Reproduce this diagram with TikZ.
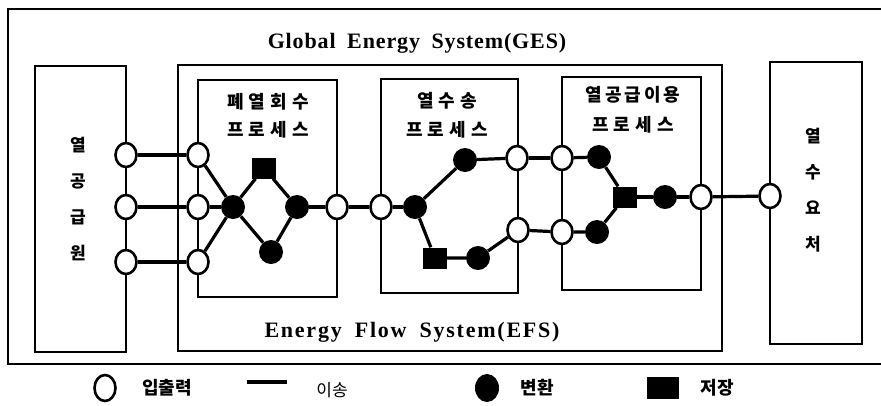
\documentclass[tikz,border=0pt]{standalone}
\usepackage{fontspec}
\usepackage{tikz}
\usetikzlibrary{positioning,shapes.geometric,backgrounds}
\newfontfamily\krfont{Noto Sans CJK KR}
\newfontfamily\enfont[WordSpace=1.8,LetterSpace=4]{Liberation Serif}

\begin{document}
\begin{tikzpicture}[
    x=1pt, y=-1pt,
    box/.style={
        draw=black,
        line width=2.2pt,
        inner sep=0pt
    },
    io/.style={
        ellipse,
        draw=black,
        line width=2.6pt,
        fill=white,
        minimum width=21pt,
        minimum height=24pt,
        inner sep=0pt
    },
    conv/.style={
        circle,
        fill=black,
        minimum size=24pt,
        inner sep=0pt
    },
    store/.style={
        rectangle,
        fill=black,
        minimum width=24pt,
        minimum height=21pt,
        inner sep=0pt
    },
    lnk/.style={line width=3.2pt},
    krtxt/.style={font=\krfont\bfseries\fontsize{18}{22}\selectfont, inner sep=0pt},
    vtxt/.style={font=\krfont\bfseries\fontsize{17}{36}\selectfont, align=center, inner sep=0pt},
    entxt/.style={font=\enfont\bfseries\fontsize{22}{24}\selectfont, inner sep=0pt}
]
\useasboundingbox (0,0) rectangle (881,405);

% GES frame, open at the right side
\draw[line width=2.4pt] (881,9) -| (8,364) -- (881,364);
\node[entxt] (ges) at (417,43) {Global Energy System(GES)};

% boxes
\node[box, minimum width=91pt, minimum height=286pt] (src) at (80.5,209) {};
\node[box, minimum width=544pt, minimum height=286pt] (efs) at (450,208) {};
\node[box, minimum width=139pt, minimum height=217pt] (proc1) at (267.5,188.5) {};
\node[box, minimum width=137pt, minimum height=214pt] (proc2) at (449.5,186) {};
\node[box, minimum width=139pt, minimum height=213pt] (proc3) at (631.5,183.5) {};
\node[box, minimum width=92pt, minimum height=282pt] (sink) at (816,203) {};

\node[entxt] (efslbl) at (412,332) {\addfontfeature{LetterSpace=8}Energy Flow System(EFS)};
\node[vtxt] (srclbl) at (78,199) {열\\공\\급\\원};
\node[vtxt] (sinklbl) at (813,190) {열\\수\\요\\처};
\node[krtxt] (p1a) at (268,102) {폐\;열\;회\;수};
\node[krtxt] (p1b) at (268,130) {프\;로\;세\;스};
\node[krtxt] (p2a) at (447,101) {열\;수\;송};
\node[krtxt] (p2b) at (447,130) {프\;로\;세\;스};
\node[krtxt] (p3a) at (633,95) {열\,공\,급\,이\,용};
\node[krtxt] (p3b) at (633,125) {프\;로\;세\;스};

% input / output points
\node[io] (s1) at (126,155) {};
\node[io] (s2) at (126,207) {};
\node[io] (s3) at (126,262) {};
\node[io] (e1) at (198,155) {};
\node[io] (e2) at (198,207) {};
\node[io] (e3) at (198,262) {};
\node[io] (o1) at (337,207) {};
\node[io] (o2) at (381,207) {};
\node[io] (o3) at (517,158) {};
\node[io] (o4) at (518,230) {};
\node[io] (o5) at (562,158) {};
\node[io] (o6) at (562,232) {};
\node[io] (o7) at (701,197) {};
\node[io] (o8) at (770,196) {};

% conversion and storage
\node[conv] (c1) at (233,207) {};
\node[store] (t1) at (264,168) {};
\node[conv] (c2) at (297,207) {};
\node[conv] (c3) at (271,252) {};
\node[conv] (c4) at (415,207) {};
\node[conv] (c5) at (465,160) {};
\node[store] (t2) at (435,258) {};
\node[conv] (c6) at (478,258) {};
\node[conv] (c7) at (599,157) {};
\node[conv] (c8) at (597,232) {};
\node[store] (t3) at (625,197) {};
\node[conv] (c9) at (665,197) {};

% transport
\draw[lnk] (s1) -- (e1);
\draw[lnk] (s2) -- (e2);
\draw[lnk] (s3) -- (e3);
\draw[lnk] (e1) -- (c1);
\draw[lnk] (e2) -- (c1);
\draw[lnk] (e3) -- (c1);
\draw[lnk] (c1) -- (t1) -- (c2);
\draw[lnk] (c1) -- (c3) -- (c2);
\draw[lnk] (c2) -- (o1);
\draw[lnk] (o1) -- (o2);
\draw[lnk] (o2) -- (c4);
\draw[lnk] (c4) -- (c5) -- (o3);
\draw[lnk] (c4) -- (t2) -- (c6) -- (o4);
\draw[lnk] (o3) -- (o5);
\draw[lnk] (o4) -- (o6);
\draw[lnk] (o5) -- (c7) -- (t3);
\draw[lnk] (o6) -- (c8) -- (t3);
\draw[lnk] (t3) -- (c9) -- (o7);
\draw[lnk] (o7) -- (o8);

% legend
\node[io, minimum width=21pt, minimum height=26pt] (lgio) at (105,388) {};
\node[krtxt] (lgiotxt) at (167,388) {입출력};
\coordinate (lgl1) at (247,382);
\coordinate (lgl2) at (287,382);
\draw[lnk] (lgl1) -- (lgl2);
\node[krtxt, font=\krfont\fontsize{17}{22}\selectfont] (lgltxt) at (332,390) {이송};
\node[conv, minimum width=24pt, minimum height=28pt, ellipse] (lgconv) at (487,388) {};
\node[krtxt] (lgconvtxt) at (537,388) {변환};
\node[store, minimum width=32pt, minimum height=22pt] (lgstore) at (663,388) {};
\node[krtxt] (lgstoretxt) at (717,388) {저장};
\end{tikzpicture}
\end{document}
